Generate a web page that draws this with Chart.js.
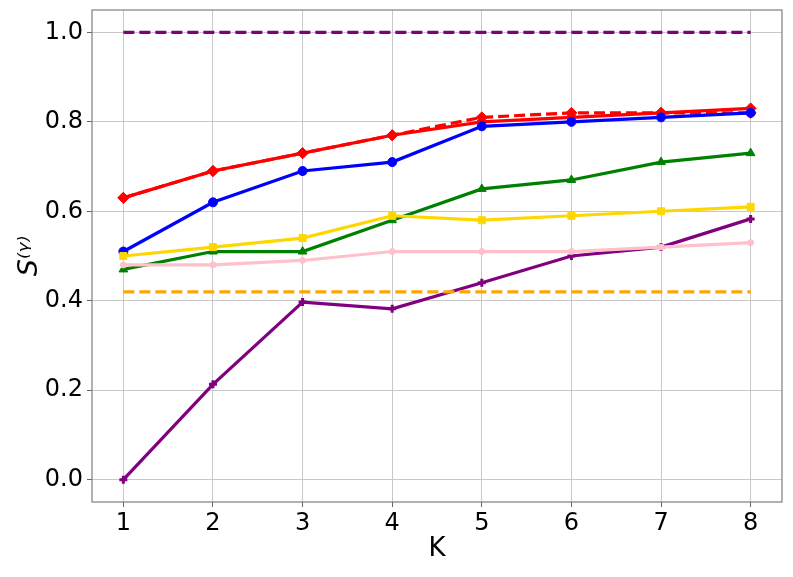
<!DOCTYPE html>
<html>
<head>
<meta charset="utf-8">
<script src="https://cdn.jsdelivr.net/npm/chart.js@4.4.0/dist/chart.umd.min.js"></script>
<style>
  html, body { margin: 0; padding: 0; background: #fff; }
  #wrap { width: 793px; height: 577px; }
</style>
</head>
<body>
<div id="wrap"><canvas id="chart" width="793" height="577"></canvas></div>
<script>
// values
const kValues = [1, 2, 3, 4, 5, 6, 7, 8];
const redSolid = [0.63, 0.69, 0.73, 0.77, 0.80, 0.81, 0.82, 0.83];
const redDashed = [0.63, 0.69, 0.73, 0.77, 0.81, 0.82, 0.82, 0.82];
const blueSeries = [0.51, 0.62, 0.69, 0.71, 0.79, 0.80, 0.81, 0.82];
const greenSeries = [0.47, 0.51, 0.51, 0.58, 0.65, 0.67, 0.71, 0.73];
const goldSeries = [0.50, 0.52, 0.54, 0.59, 0.58, 0.59, 0.60, 0.61];
const pinkSeries = [0.48, 0.48, 0.49, 0.51, 0.51, 0.51, 0.52, 0.53];
const purpleSeries = [0.0, 0.213, 0.397, 0.382, 0.44, 0.50, 0.52, 0.583];
const orangeRef = [0.42, 0.42, 0.42, 0.42, 0.42, 0.42, 0.42, 0.42];
const purpleRef = [1.0, 1.0, 1.0, 1.0, 1.0, 1.0, 1.0, 1.0];
const xTicks = [1, 2, 3, 4, 5, 6, 7, 8];
const yTicks = [0.0, 0.2, 0.4, 0.6, 0.8, 1.0];

function pts(values) {
    return values.map((v, i) => ({ x: kValues[i], y: v }));
}

function series(values, color, opts) {
    return Object.assign({
        data: pts(values),
        borderColor: color,
        backgroundColor: color,
        borderWidth: 3.2,
        showLine: true,
        pointRadius: 4.5,
        pointHoverRadius: 4.5,
        pointStyle: 'circle',
        pointBorderWidth: 1
    }, opts || {});
}

// frame around the plot area, like matplotlib spines
const framePlugin = {
    id: 'frame',
    afterDraw(chart) {
        const a = chart.chartArea;
        const ctx = chart.ctx;
        ctx.save();
        ctx.strokeStyle = '#7f7f7f';
        ctx.lineWidth = 1.2;
        ctx.strokeRect(a.left, a.top, a.right - a.left, a.bottom - a.top);
        ctx.restore();
    }
};

const ctx = document.getElementById('chart').getContext('2d');
new Chart(ctx, {
    type: 'scatter',
    data: {
        datasets: [
            series(purpleRef, 'purple', { borderDash: [11, 5], pointRadius: 0 }),
            series(orangeRef, 'orange', { borderDash: [11, 5], pointRadius: 0 }),
            series(pinkSeries, 'pink', { pointRadius: 3 }),
            series(purpleSeries, 'purple', { pointStyle: 'cross', pointRadius: 4, pointBorderWidth: 3 }),
            series(goldSeries, 'gold', { pointStyle: 'rect', pointRadius: 5 }),
            series(greenSeries, 'green', { pointStyle: 'triangle', pointRadius: 5 }),
            series(blueSeries, 'blue'),
            series(redDashed, 'red', { borderDash: [11, 5], pointStyle: 'rectRot', pointRadius: 5.5 }),
            series(redSolid, 'red', { pointStyle: 'rectRot', pointRadius: 5.5 })
        ]
    },
    options: {
        responsive: false,
        animation: false,
        layout: { padding: { top: 10, right: 11, left: 14, bottom: 12 } },
        plugins: {
            legend: { display: false },
            tooltip: { enabled: false }
        },
        scales: {
            x: {
                type: 'linear',
                min: 0.65,
                max: 8.35,
                afterBuildTicks: axis => { axis.ticks = xTicks.map(v => ({ value: v })); },
                afterFit: axis => {
                    axis.height = 63;
                    axis.paddingLeft = 0;
                    axis.paddingRight = 0;
                },
                grid: { color: '#c8c8c8', lineWidth: 1, tickLength: 5, tickColor: '#666' },
                border: { display: false },
                ticks: {
                    color: '#000',
                    font: { family: 'DejaVu Sans', size: 24 },
                    padding: 2,
                    maxRotation: 0
                },
                title: {
                    display: true,
                    text: 'K',
                    color: '#000',
                    font: { family: 'DejaVu Sans', size: 26 },
                    padding: { top: 0, bottom: 0 }
                }
            },
            y: {
                min: -0.05,
                max: 1.05,
                afterBuildTicks: axis => { axis.ticks = yTicks.map(v => ({ value: v })); },
                afterFit: axis => {
                    axis.width = 78;
                    axis.paddingTop = 0;
                    axis.paddingBottom = 0;
                },
                grid: { color: '#c8c8c8', lineWidth: 1, tickLength: 5, tickColor: '#666' },
                border: { display: false },
                ticks: {
                    color: '#000',
                    font: { family: 'DejaVu Sans', size: 24 },
                    padding: 4,
                    callback: v => v.toFixed(1)
                },
                title: {
                    display: true,
                    text: 'S⁽ᵞ⁾',
                    color: '#000',
                    font: { family: 'DejaVu Sans', size: 27, style: 'italic' },
                    padding: { top: 0, bottom: 0 }
                }
            }
        }
    },
    plugins: [framePlugin]
});
</script>
</body>
</html>
